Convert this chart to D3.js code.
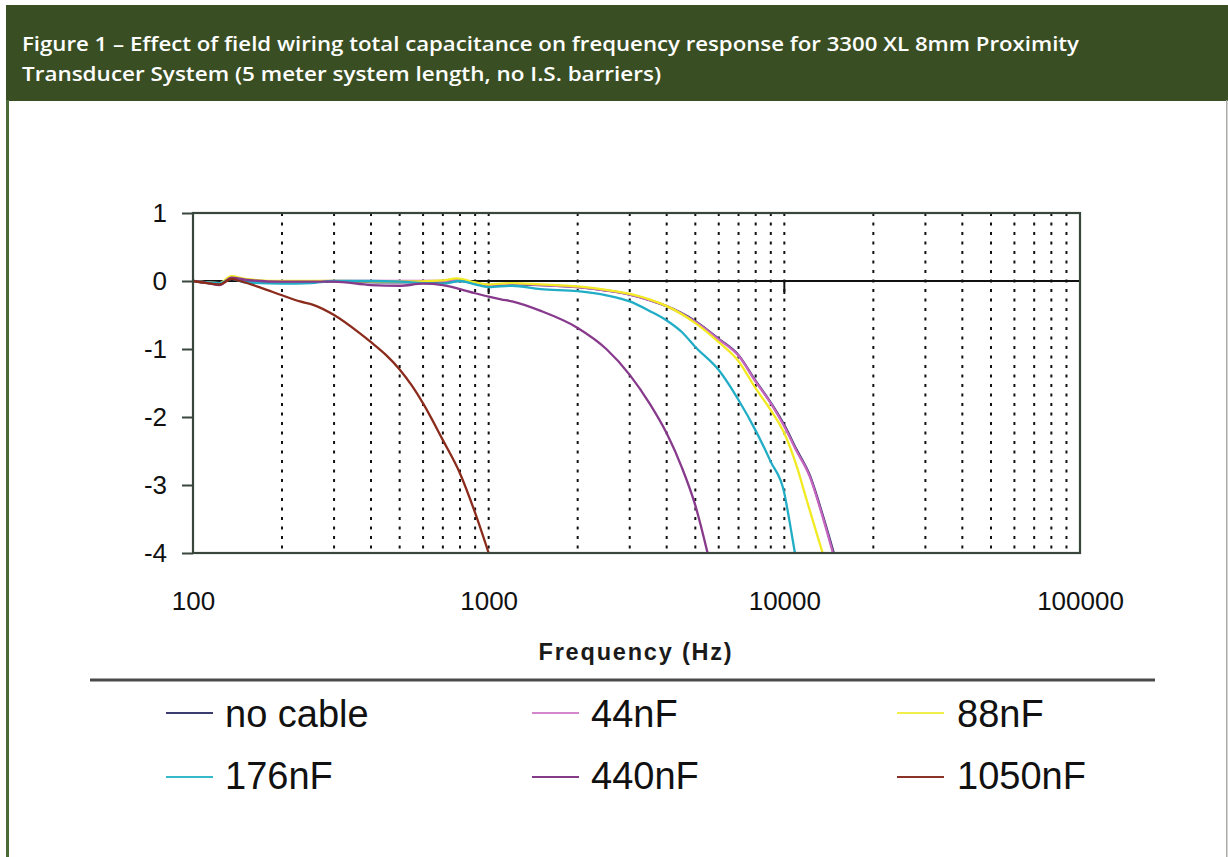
<!DOCTYPE html>
<html>
<head>
<meta charset="utf-8">
<script src="https://cdn.jsdelivr.net/npm/d3@7"></script>
<style>
  html, body { margin: 0; padding: 0; background: #fff; }
  svg { display: block; }
</style>
</head>
<body>
<svg id="chart" width="1228" height="857"></svg>
<script>
// ---------------- DATA ----------------
const titleLines = [
  "Figure 1 – Effect of field wiring total capacitance on frequency response for 3300 XL 8mm Proximity",
  "Transducer System (5 meter system length, no I.S. barriers)"
];
const xTickValues = [100, 1000, 10000, 100000];
const xTickLabels = ["100", "1000", "10000", "100000"];
const yTickValues = [1, 0, -1, -2, -3, -4];
const yTickLabels = ["1", "0", "-1", "-2", "-3", "-4"];
const gridFreqs = [200,300,400,500,600,700,800,900,1000,2000,3000,4000,5000,6000,7000,8000,9000,10000,20000,30000,40000,50000,60000,70000,80000,90000];
const xAxisTitle = "Frequency (Hz)";

const seriesNames = ["no cable", "44nF", "88nF", "176nF", "440nF", "1050nF"];

const freqNoCable = [100,123,135,150,200,300,500,700,800,900,1000,1200,1500,2000,2500,3000,3500,4000,5000,6000,7000,8000,9000,10000,11000,12200,13500,14700];
const respNoCable = [0,-0.04,0.04,0.01,-0.02,-0.01,-0.02,-0.01,0,-0.03,-0.06,-0.05,-0.06,-0.09,-0.14,-0.2,-0.28,-0.37,-0.59,-0.85,-1.09,-1.47,-1.79,-2.12,-2.48,-2.86,-3.45,-4.0];

const freq44nF = [100,123,135,150,200,300,500,700,800,900,1000,1200,1500,2000,2500,3000,3500,4000,5000,6000,7000,8000,9000,10000,11000,12200,13500,14600];
const resp44nF = [0,-0.03,0.05,0.02,-0.01,0,0,0,0.02,-0.03,-0.06,-0.04,-0.06,-0.09,-0.14,-0.2,-0.28,-0.37,-0.6,-0.86,-1.1,-1.48,-1.8,-2.14,-2.5,-2.88,-3.48,-4.0];

const freq88nF = [100,123,135,150,200,300,500,700,780,900,1000,1200,1500,2000,2500,3000,3500,4000,5000,6000,7000,8000,9000,10000,11000,11900,12700,13480];
const resp88nF = [0,-0.03,0.07,0.03,0,0,-0.01,0.01,0.04,-0.02,-0.05,-0.03,-0.05,-0.08,-0.13,-0.19,-0.27,-0.37,-0.62,-0.9,-1.18,-1.58,-1.9,-2.24,-2.72,-3.22,-3.63,-4.0];

const freq176nF = [100,123,135,150,200,250,300,400,500,600,700,800,900,1000,1200,1500,2000,2500,3000,3500,4000,4500,5000,6000,7000,8000,9000,10000,10400,10860];
const resp176nF = [0,-0.03,0.03,-0.02,-0.04,-0.03,0,0,-0.01,-0.03,-0.04,0,-0.05,-0.09,-0.07,-0.12,-0.15,-0.21,-0.3,-0.44,-0.58,-0.75,-0.97,-1.31,-1.75,-2.2,-2.66,-3.12,-3.52,-4.0];

const freq440nF = [100,112,123,135,150,200,300,400,500,600,700,800,900,1000,1100,1200,1500,2000,2500,3000,3500,4000,4500,5000,5500];
const resp440nF = [0,-0.03,-0.06,0.05,0.02,-0.01,-0.01,-0.06,-0.07,-0.04,-0.06,-0.12,-0.18,-0.23,-0.27,-0.3,-0.44,-0.69,-1.0,-1.38,-1.8,-2.24,-2.74,-3.3,-4.0];

const freq1050nF = [100,112,123,135,144,170,200,230,255,300,367,400,450,500,550,600,700,800,900,1000];
const resp1050nF = [0,-0.03,-0.05,0.03,0,-0.1,-0.21,-0.3,-0.35,-0.5,-0.77,-0.9,-1.09,-1.3,-1.54,-1.8,-2.34,-2.83,-3.41,-4.0];

const plotColors = ["#3a3a72", "#c766c0", "#f2ea22", "#22adc6", "#873a8c", "#8b2b1c"];
const legendColors = ["#3c3c6e", "#d487cc", "#f3ef4a", "#35b8ca", "#843c88", "#8a3226"];

// ---------------- BUILD ----------------
const series = [
  { name: seriesNames[0], f: freqNoCable, v: respNoCable },
  { name: seriesNames[1], f: freq44nF,    v: resp44nF },
  { name: seriesNames[2], f: freq88nF,    v: resp88nF },
  { name: seriesNames[3], f: freq176nF,   v: resp176nF },
  { name: seriesNames[4], f: freq440nF,   v: resp440nF },
  { name: seriesNames[5], f: freq1050nF,  v: resp1050nF }
].map((s, i) => ({ ...s, color: plotColors[i], legendColor: legendColors[i],
  pts: s.f.map((f, j) => ({ f, v: s.v[j] })) }));

const svg = d3.select("#chart");
const W = 1228, H = 857;
const P = { left: 193, right: 1080, top: 213, bottom: 553 };

const x = d3.scaleLog().domain([100, 100000]).range([P.left, P.right]);
const y = d3.scaleLinear().domain([-4, 1]).range([P.bottom, P.top]);

svg.append("rect").attr("width", W).attr("height", H).attr("fill", "#fff");

// header band
svg.append("rect").attr("x", 6).attr("y", 5).attr("width", W - 6).attr("height", 96).attr("fill", "#3a4e23");
svg.append("rect").attr("x", 6).attr("y", 100).attr("width", 3).attr("height", H - 100).attr("fill", "#4b6a36");
svg.append("rect").attr("x", 1226).attr("y", 100).attr("width", 1.5).attr("height", H - 100).attr("fill", "#a9aca6");

const titleEnds = [1079, 661];
titleLines.forEach((t, i) => {
  svg.append("text")
    .attr("x", 22).attr("y", 51 + i * 30)
    .attr("fill", "#ffffff")
    .attr("font-family", "'Open Sans', 'Noto Sans', sans-serif")
    .attr("font-weight", 600)
    .attr("font-size", 20)
    .attr("textLength", titleEnds[i] - 22)
    .attr("lengthAdjust", "spacingAndGlyphs")
    .text(t);
});

// grid (dotted)
svg.append("g").selectAll("line").data(gridFreqs).join("line")
  .attr("x1", d => x(d)).attr("x2", d => x(d))
  .attr("y1", P.top).attr("y2", P.bottom)
  .attr("stroke", "#111").attr("stroke-width", 2)
  .attr("stroke-dasharray", "3,6.5");

// zero line
svg.append("line").attr("x1", P.left).attr("x2", P.right)
  .attr("y1", y(0)).attr("y2", y(0)).attr("stroke", "#111").attr("stroke-width", 2);
// major x ticks hanging below zero line
svg.append("g").selectAll("line").data([1000, 10000]).join("line")
  .attr("x1", d => x(d)).attr("x2", d => x(d))
  .attr("y1", y(0)).attr("y2", y(0) + 13)
  .attr("stroke", "#111").attr("stroke-width", 2);

// series lines
svg.append("clipPath").attr("id", "plotclip").append("rect")
  .attr("x", P.left).attr("y", P.top).attr("width", P.right - P.left).attr("height", P.bottom - P.top);
const line = d3.line().x(d => x(d.f)).y(d => y(d.v)).curve(d3.curveMonotoneX);
svg.append("g").attr("clip-path", "url(#plotclip)")
  .selectAll("path").data(series).join("path")
  .attr("d", d => line(d.pts))
  .attr("fill", "none").attr("stroke", d => d.color)
  .attr("stroke-width", 2.3).attr("stroke-linejoin", "round");

// frame
svg.append("rect").attr("x", P.left).attr("y", P.top)
  .attr("width", P.right - P.left).attr("height", P.bottom - P.top)
  .attr("fill", "none").attr("stroke", "#39463b").attr("stroke-width", 2.2);

// y axis
const yAxis = d3.axisLeft(y).tickValues(yTickValues).tickSize(11).tickPadding(15)
  .tickFormat((d, i) => yTickLabels[i]);
const gy = svg.append("g").attr("transform", `translate(${P.left},0)`).call(yAxis);
gy.select(".domain").remove();
gy.selectAll(".tick line").attr("stroke", "#39463b").attr("stroke-width", 2);
gy.selectAll(".tick text").attr("font-family", "'Liberation Sans', Arial, sans-serif")
  .attr("font-size", 26).attr("fill", "#111");

// x axis labels
const xAxis = d3.axisBottom(x).tickValues(xTickValues).tickSize(0).tickPadding(39)
  .tickFormat((d, i) => xTickLabels[i]);
const gx = svg.append("g").attr("transform", `translate(0,${P.bottom})`).call(xAxis);
gx.select(".domain").remove();
gx.selectAll(".tick text").attr("font-family", "'Liberation Sans', Arial, sans-serif")
  .attr("font-size", 26).attr("fill", "#111");

svg.append("text").attr("x", 636).attr("y", 660).attr("text-anchor", "middle")
  .attr("font-family", "'Liberation Sans', Arial, sans-serif").attr("font-weight", 700)
  .attr("font-size", 23.5).attr("letter-spacing", 1.8).attr("fill", "#1a1a1a")
  .text(xAxisTitle);

// separator
svg.append("line").attr("x1", 90).attr("x2", 1155).attr("y1", 680).attr("y2", 680)
  .attr("stroke", "#4a4a4a").attr("stroke-width", 3);

// legend
const colLineX = [166, 532, 897];
const colTextX = [225, 591, 957];
const rowLineY = [713, 777];
const rowTextY = [727, 789];
const lg = svg.append("g").selectAll("g").data(series).join("g");
lg.append("line")
  .attr("x1", (d, i) => colLineX[i % 3]).attr("x2", (d, i) => colLineX[i % 3] + 47)
  .attr("y1", (d, i) => rowLineY[Math.floor(i / 3)]).attr("y2", (d, i) => rowLineY[Math.floor(i / 3)])
  .attr("stroke", d => d.legendColor).attr("stroke-width", 2.2);
lg.append("text")
  .attr("x", (d, i) => colTextX[i % 3]).attr("y", (d, i) => rowTextY[Math.floor(i / 3)])
  .attr("font-family", "'Liberation Sans', Arial, sans-serif").attr("font-size", 38)
  .attr("fill", "#111").text(d => d.name);
</script>
</body>
</html>
